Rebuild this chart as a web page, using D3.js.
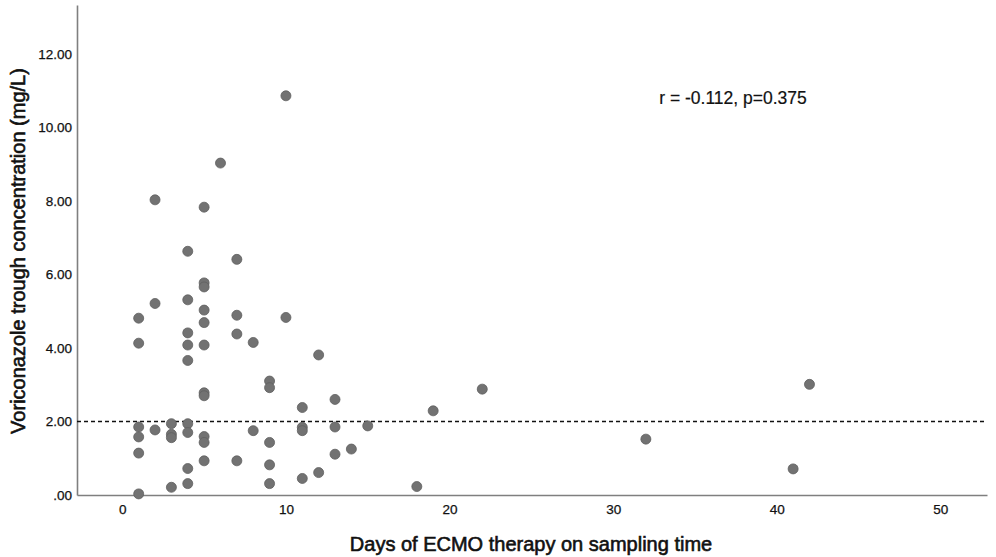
<!DOCTYPE html>
<html>
<head>
<meta charset="utf-8">
<script src="https://cdn.jsdelivr.net/npm/d3@7"></script>
<style>
  body { margin: 0; background: #fff; }
  svg { display: block; font-family: "Liberation Sans", Arial, sans-serif; }
</style>
</head>
<body>
<div id="chart"></div>
<script>
// days on ECMO at sampling, and voriconazole trough (mg/L)
const days = [
    1, 1, 1, 1, 1, 1,
    2, 2, 2,
    3, 3, 3, 3,
    4, 4, 4, 4, 4, 4, 4, 4, 4,
    5, 5, 5, 5, 5, 5, 5, 5, 5, 5, 5,
    6,
    7, 7, 7, 7,
    8, 8,
    9, 9, 9, 9, 9,
    10, 10,
    11, 11, 11, 11,
    12, 12,
    13, 13, 13,
    14, 15, 18, 19, 22, 32, 41, 42
];
const trough = [
    4.81, 4.13, 1.85, 1.58, 1.14, 0.03,
    8.03, 5.21, 1.77,
    1.94, 1.65, 1.56, 0.21,
    6.63, 5.31, 4.41, 4.08, 3.66, 1.94, 1.70, 0.72, 0.31,
    7.83, 5.77, 5.66, 5.03, 4.69, 4.08, 2.78, 2.70, 1.59, 1.43, 0.93,
    9.03,
    6.41, 4.89, 4.38, 0.93,
    4.15, 1.75,
    3.10, 2.92, 1.43, 0.82, 0.31,
    10.86, 4.83,
    2.38, 1.84, 1.75, 0.45,
    3.81, 0.61,
    2.60, 1.85, 1.11,
    1.25, 1.88, 0.23, 2.29, 2.88, 1.52, 0.71, 3.01
];
const xTicks = [0, 10, 20, 30, 40, 50];
const yTicks = [0, 2, 4, 6, 8, 10, 12];
const cutoff = 2;
const note = "r = -0.112, p=0.375";

const data = days.map((d, i) => ({ day: d, value: trough[i] }));

const width = 996,
    height = 557,
    margin = ({ top: 5, right: 9, bottom: 62, left: 77 });

let svg = d3.select("#chart")
    .append("svg")
    .attr("width", width)
    .attr("height", height);

let x = d3.scaleLinear()
    .domain([-2.77, 52.85])
    .range([margin.left, width - margin.right]);

let y = d3.scaleLinear()
    .domain([0, 13.33])
    .range([height - margin.bottom, margin.top]);

// x axis, no tick marks, just labels
let xAxis = svg.append("g")
    .attr("transform", `translate(0,${height - margin.bottom})`)
    .call(d3.axisBottom(x).tickValues(xTicks).tickSize(0).tickPadding(9).tickFormat(d3.format("d")));
xAxis.select(".domain").attr("stroke", "#7f7f7f").attr("stroke-width", 1.6);
xAxis.selectAll("text").attr("font-size", 13.5).attr("fill", "#111")
    .attr("stroke", "#111").attr("stroke-width", 0.25);

let yAxis = svg.append("g")
    .attr("transform", `translate(${margin.left},0)`)
    .call(d3.axisLeft(y).tickValues(yTicks).tickSize(0).tickPadding(5)
        .tickFormat(d => d === 0 ? ".00" : d3.format(".2f")(d)));
yAxis.select(".domain").attr("stroke", "#7f7f7f").attr("stroke-width", 1.6);
yAxis.selectAll("text").attr("font-size", 13.5).attr("fill", "#111")
    .attr("stroke", "#111").attr("stroke-width", 0.25);

// reference line at 2 mg/L
svg.append("line")
    .attr("x1", margin.left)
    .attr("x2", width - margin.right)
    .attr("y1", y(cutoff))
    .attr("y2", y(cutoff))
    .attr("stroke", "#111")
    .attr("stroke-width", 1.5)
    .attr("stroke-dasharray", "4,3");

svg.selectAll(".dot")
    .data(data)
    .join("circle")
    .attr("class", "dot")
    .attr("cx", d => x(d.day))
    .attr("cy", d => y(d.value))
    .attr("r", 5)
    .attr("fill", "#727272")
    .attr("stroke", "#5f5f5f")
    .attr("stroke-width", 0.8);

svg.append("text")
    .attr("x", 733)
    .attr("y", 104)
    .attr("text-anchor", "middle")
    .attr("font-size", 17.5)
    .attr("fill", "#111")
    .attr("stroke", "#111")
    .attr("stroke-width", 0.2)
    .text(note);

svg.append("text") // x title
    .attr("x", 531)
    .attr("y", 551)
    .attr("text-anchor", "middle")
    .attr("font-size", 20)
    .attr("fill", "#111")
    .attr("stroke", "#111")
    .attr("stroke-width", 0.6)
    .text("Days of ECMO therapy on sampling time");

svg.append("text") // y title
    .attr("transform", "translate(25,251) rotate(-90)")
    .attr("text-anchor", "middle")
    .attr("font-size", 20)
    .attr("fill", "#111")
    .attr("stroke", "#111")
    .attr("stroke-width", 0.6)
    .text("Voriconazole trough concentration (mg/L)");
</script>
</body>
</html>
